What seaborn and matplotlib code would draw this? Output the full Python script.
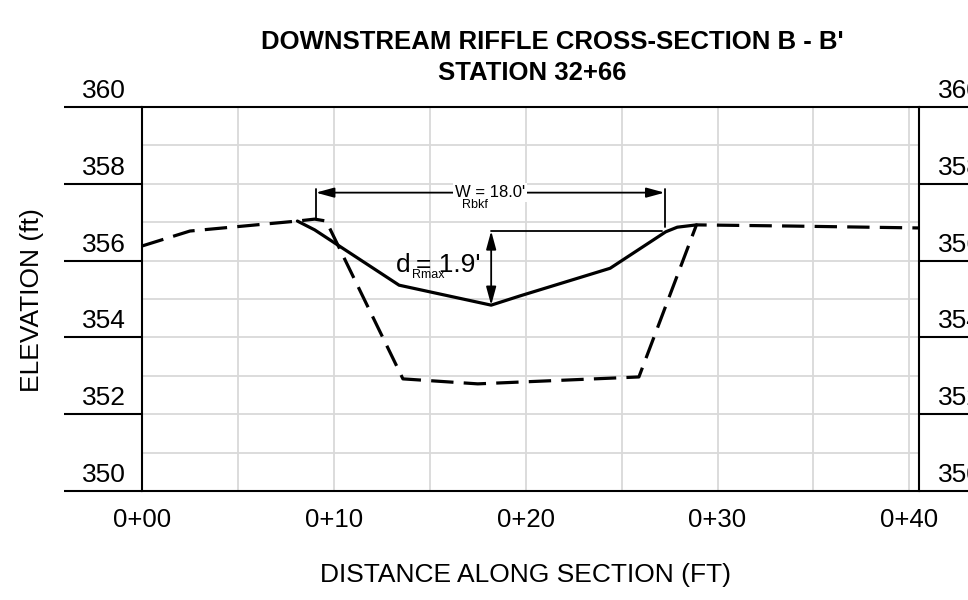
import numpy as np
import pandas as pd
import matplotlib
matplotlib.use('Agg')
import matplotlib.pyplot as plt
import seaborn as sns

# station (ft) and elevation (ft)
proposed_x = [0.0, 2.5, 8.1, 9.0, 9.6, 13.6, 17.5, 25.9, 28.9, 33.8, 40.5]
proposed_y = [356.38, 356.77, 357.03, 357.08, 357.03, 352.92, 352.79, 352.97, 356.93, 356.90, 356.85]

existing_x = [8.1, 9.0, 13.4, 18.2, 19.7, 24.4, 27.3, 27.9, 28.9]
existing_y = [357.03, 356.80, 355.36, 354.84, 355.08, 355.80, 356.75, 356.87, 356.93]

x_ticks = [0, 10, 20, 30, 40]
x_tick_labels = ["0+00", "0+10", "0+20", "0+30", "0+40"]
y_ticks = [350, 352, 354, 356, 358, 360]

# bankfull width / max depth dimensions
w_left, w_right, w_elev = 9.06, 27.24, 357.77
d_x, d_top, d_bottom, d_right = 18.2, 356.77, 354.84, 27.1

sns.set_style("white")
plt.rcParams['font.family'] = ['Liberation Sans', 'DejaVu Sans']
plt.rcParams['text.color'] = 'black'
plt.rcParams['axes.labelcolor'] = 'black'
plt.rcParams['xtick.color'] = 'black'
plt.rcParams['ytick.color'] = 'black'

fig = plt.figure(figsize=(9.68, 6.0), dpi=100)
ax = fig.add_axes([142 / 968, 1 - 491 / 600, 777 / 968, 384 / 600])

df_prop = pd.DataFrame({"x": proposed_x, "y": proposed_y})
df_exist = pd.DataFrame({"x": existing_x, "y": existing_y})

sns.lineplot(data=df_prop, x="x", y="y", ax=ax, sort=False, color="black",
             linewidth=2.3, linestyle=(0, (7.0, 3.2)), zorder=3)
sns.lineplot(data=df_exist, x="x", y="y", ax=ax, sort=False, color="black",
             linewidth=2.3, zorder=4)

ax.set_xlim(0, 40.5)
ax.set_ylim(350, 360)

# grid: every 5 ft across, every 1 ft up
ax.set_xticks(np.arange(0, 41, 5))
ax.set_xticklabels([x_tick_labels[x_ticks.index(t)] if t in x_ticks else "" for t in range(0, 41, 5)])
ax.set_yticks(y_ticks)
ax.set_yticks(np.arange(351, 360, 2), minor=True)
ax.grid(True, which="both", color="#d9d9d9", linewidth=1.3, zorder=0)
ax.set_axisbelow(True)

ax.tick_params(axis="x", length=0, pad=12, labelsize=18.5)
ax.tick_params(axis="y", which="major", left=True, right=True, direction="out",
               length=56, width=1.5, color="black", labelleft=False)
ax.tick_params(axis="y", which="minor", length=0)

for side in ["left", "right", "top", "bottom"]:
    ax.spines[side].set_visible(True)
    ax.spines[side].set_color("black")
    ax.spines[side].set_linewidth(1.5)

# elevation labels sit above the long tick lines on both sides
for v in y_ticks:
    ax.annotate(str(v), xy=(0, v), xycoords=ax.get_yaxis_transform(),
                xytext=(-27.5, 6.5), textcoords="offset points",
                ha="center", va="baseline", fontsize=19, annotation_clip=False)
    ax.annotate(str(v), xy=(1, v), xycoords=ax.get_yaxis_transform(),
                xytext=(13.5, 6.5), textcoords="offset points",
                ha="left", va="baseline", fontsize=19, annotation_clip=False)

ax.set_xlabel("DISTANCE ALONG SECTION (FT)", fontsize=19)
ax.xaxis.set_label_coords(0.493, -0.187)
ax.set_ylabel("ELEVATION (ft)", fontsize=19)
ax.yaxis.set_label_coords(-0.126, 0.497)

# bankfull width dimension
ax.plot([w_left, w_left], [357.86, 357.08], color="black", linewidth=1.3)
ax.plot([w_right, w_right], [357.86, 356.87], color="black", linewidth=1.3)
ax.annotate("", xy=(w_left, w_elev), xytext=(w_right, w_elev),
            arrowprops=dict(arrowstyle="<|-|>,head_length=1.1,head_width=0.3",
                            color="black", linewidth=1.3, shrinkA=0, shrinkB=0))
ax.text(18.13, w_elev, "W = 18.0'", ha="center", va="center", fontsize=12,
        bbox=dict(facecolor="white", edgecolor="none", pad=1.5), zorder=5)
ax.text(17.34, 357.45, "Rbkf", ha="center", va="center", fontsize=9, zorder=5)

# max depth dimension
ax.plot([d_x, d_right], [d_top, d_top], color="black", linewidth=1.3)
ax.annotate("", xy=(d_x, d_top), xytext=(d_x, d_bottom),
            arrowprops=dict(arrowstyle="<|-|>,head_length=1.1,head_width=0.3",
                            color="black", linewidth=1.3, shrinkA=0, shrinkB=0))
ax.text(13.23, 355.70, "d", ha="left", va="baseline", fontsize=19, zorder=5)
ax.text(14.3, 355.70, "= 1.9'", ha="left", va="baseline", fontsize=19, zorder=5)
ax.text(14.09, 355.63, "Rmax", ha="left", va="center", fontsize=9, zorder=6)

fig.text(552 / 968, 1 - 49 / 600, "DOWNSTREAM RIFFLE CROSS-SECTION B - B'",
         ha="center", va="baseline", fontsize=18.5, fontweight="bold")
fig.text(532 / 968, 1 - 80 / 600, "STATION 32+66",
         ha="center", va="baseline", fontsize=18.5, fontweight="bold")

fig.savefig("out.png", dpi=100)
